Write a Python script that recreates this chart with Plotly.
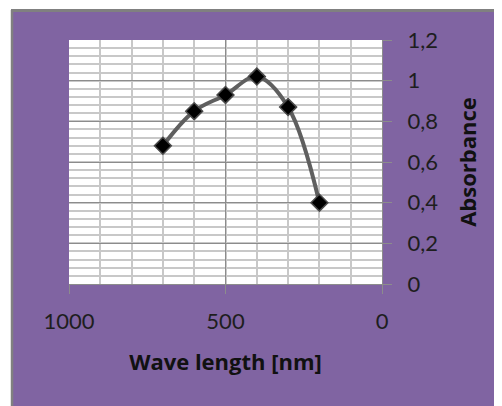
import plotly.graph_objects as go

# Data
wavelength_nm = [700, 600, 500, 400, 300, 200]
absorbance = [0.68, 0.85, 0.93, 1.02, 0.87, 0.40]

x_tick_vals = [1000, 500, 0]
x_tick_text = ["1000", "500", "0"]
y_tick_vals = [0, 0.2, 0.4, 0.6, 0.8, 1.0, 1.2]
y_tick_text = ["0", "0,2", "0,4", "0,6", "0,8", "1", "1,2"]

# The page has an 8px body margin, so figure pixels = screen pixels - 8
OFF = 8
W, H = 502 - OFF, 406 - OFF
L, R, T, B = 69 - OFF, 382 - OFF, 40 - OFF, 284 - OFF  # plot area in figure px
PURPLE = "#8064A2"


def px(x):
    return (x - OFF - L) / (R - L)


def py(y):
    return (B - (y - OFF)) / (B - T)


fig = go.Figure()
fig.add_trace(go.Scatter(
    x=wavelength_nm, y=absorbance, mode="lines+markers",
    line=dict(color="#5f5f5f", width=4, shape="spline", smoothing=1),
    marker=dict(symbol="diamond", size=13, color="black",
                line=dict(color="#4a4a4a", width=1.5)),
    showlegend=False, cliponaxis=False,
))

tickfont = dict(family="Lato, Carlito, sans-serif", size=22, color="#1e1e1e")
titlefont = dict(family="Open Sans, sans-serif", size=22, color="#111111",
                 weight="bold")

fig.update_layout(
    width=W, height=H,
    margin=dict(l=L, r=W - R, t=T, b=H - B, pad=0),
    paper_bgcolor=PURPLE, plot_bgcolor="white",
    xaxis=dict(
        range=[1000, 0], tickvals=x_tick_vals, ticktext=x_tick_text,
        showgrid=True, gridcolor="#8c8c8c", gridwidth=1,
        minor=dict(dtick=100, showgrid=True, gridcolor="#c8c8c8", gridwidth=1.5,
                   ticks=""),
        ticks="outside", ticklen=9, tickcolor="#8c8c8c", tickwidth=1,
        showline=True, linecolor="#8c8c8c", linewidth=1,
        zeroline=False, tickfont=tickfont, ticklabelstandoff=9,
        title=dict(text="Wave length [nm]", font=titlefont, standoff=21),
        automargin=False,
    ),
    yaxis=dict(
        range=[0, 1.2], side="right", tickvals=y_tick_vals, ticktext=y_tick_text,
        showgrid=True, gridcolor="#8c8c8c", gridwidth=1,
        minor=dict(dtick=0.04, showgrid=True, gridcolor="#c8c8c8", gridwidth=1.5,
                   ticks=""),
        ticks="outside", ticklen=9, tickcolor="#8c8c8c", tickwidth=1,
        showline=True, linecolor="#8c8c8c", linewidth=1,
        zeroline=False, tickfont=tickfont, ticklabelstandoff=11,
        title=dict(text="Absorbance", font=titlefont, standoff=23),
        automargin=False,
    ),
    shapes=[
        dict(type="rect", xref="paper", yref="paper", layer="below",
             x0=px(-5), x1=px(11), y0=py(H + 20), y1=py(-5),
             fillcolor="white", line=dict(width=0)),
        dict(type="rect", xref="paper", yref="paper", layer="below",
             x0=px(-5), x1=px(W + 20), y0=py(9), y1=py(-5),
             fillcolor="white", line=dict(width=0)),
        dict(type="line", xref="paper", yref="paper", layer="below",
             x0=px(12), x1=px(12), y0=py(10), y1=py(H + 20),
             line=dict(color="#808080", width=2.5)),
        dict(type="line", xref="paper", yref="paper", layer="below",
             x0=px(11), x1=px(W + 20), y0=py(10.5), y1=py(10.5),
             line=dict(color="#808080", width=3)),
    ],
)

fig.write_html("out.html")
